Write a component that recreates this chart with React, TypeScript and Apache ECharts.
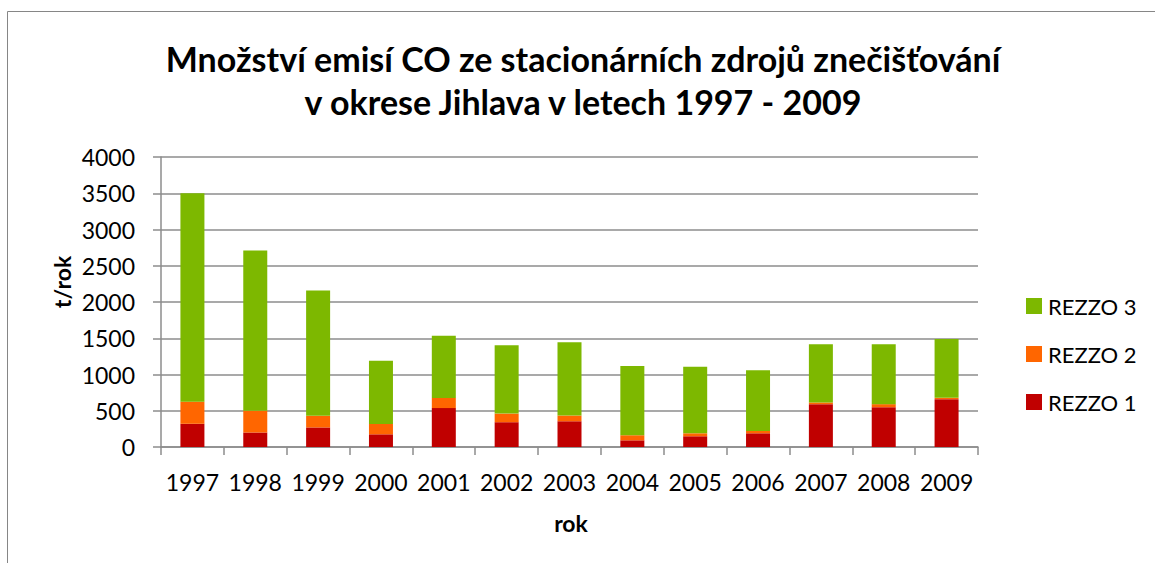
import React, { useEffect, useRef } from "react";
import * as echarts from "echarts";

const years = ["1997", "1998", "1999", "2000", "2001", "2002", "2003", "2004", "2005", "2006", "2007", "2008", "2009"];
const rezzo1 = [320, 200, 270, 175, 537, 342, 355, 92, 148, 189, 591, 549, 660];
const rezzo2 = [305, 300, 160, 142, 140, 119, 79, 70, 41, 33, 23, 42, 18];
const rezzo3 = [2875, 2210, 1730, 873, 858, 942, 1011, 955, 919, 835, 803, 826, 813];

const titleLines = ["Množství emisí CO ze stacionárních zdrojů znečišťování", "v okrese Jihlava v letech 1997 - 2009"];
const seriesNames = ["REZZO 1", "REZZO 2", "REZZO 3"];
const colors = ["#c00000", "#ff6600", "#7db800"];

const FONT = "Lato, 'Open Sans', sans-serif";
const GRIDC = "#8c8c8c";

export default function App() {
  const ref = useRef<HTMLDivElement>(null);
  useEffect(() => {
    document.body.style.margin = "0";
    const chart = echarts.init(ref.current!, null, { renderer: "svg" });
    const dataSets = [rezzo1, rezzo2, rezzo3];
    chart.setOption({
      animation: false,
      backgroundColor: "#ffffff",
      textStyle: { fontFamily: FONT },
      grid: { left: 161, top: 157, width: 817, height: 290, containLabel: false },
      legend: {
        orient: "vertical",
        left: 1021,
        top: 290,
        itemWidth: 16,
        itemHeight: 16,
        itemGap: 26,
        icon: "rect",
        data: ["REZZO 3", "REZZO 2", "REZZO 1"],
        textStyle: { fontFamily: FONT, fontSize: 22, color: "#000", lineHeight: 22, padding: [0, 0, 0, 1] },
      },
      xAxis: {
        type: "category",
        data: years,
        axisLine: { show: true, lineStyle: { color: GRIDC, width: 1.5 } },
        axisTick: { show: true, length: 8, alignWithLabel: false, lineStyle: { color: GRIDC, width: 1.5 } },
        axisLabel: { fontFamily: FONT, fontSize: 23, color: "#000", margin: 23, interval: 0 },
      },
      yAxis: {
        type: "value",
        min: 0,
        max: 4000,
        interval: 500,
        axisLine: { show: true, lineStyle: { color: GRIDC, width: 1.5 } },
        axisTick: { show: true, length: 8, inside: false, lineStyle: { color: GRIDC, width: 1.5 } },
        axisLabel: { fontFamily: FONT, fontSize: 23, color: "#000", margin: 26, formatter: (v: number) => String(v) },
        splitLine: { show: true, lineStyle: { color: GRIDC, width: 1.5 } },
      },
      series: seriesNames.map((name, i) => ({
        name,
        type: "bar",
        stack: "total",
        barWidth: 24,
        data: dataSets[i],
        itemStyle: { color: colors[i] },
      })),
      graphic: [
        {
          type: "rect",
          shape: { x: 7.5, y: 11.5, width: 1300, height: 700 },
          style: { fill: "none", stroke: "#868686", lineWidth: 1 },
          silent: true,
        },
        {
          type: "text",
          x: 583,
          y: 58,
          style: { text: titleLines[0], font: `bold 34px ${FONT}`, fill: "#000", textAlign: "center", textVerticalAlign: "middle" },
        },
        {
          type: "text",
          x: 583,
          y: 101,
          style: { text: titleLines[1], font: `bold 34px ${FONT}`, fill: "#000", textAlign: "center", textVerticalAlign: "middle" },
        },
        {
          type: "text",
          x: 62,
          y: 282,
          rotation: Math.PI / 2,
          style: { text: "t/rok", font: `bold 23px ${FONT}`, fill: "#000", textAlign: "center", textVerticalAlign: "middle" },
        },
        {
          type: "text",
          x: 571,
          y: 523,
          style: { text: "rok", font: `bold 23px ${FONT}`, fill: "#000", textAlign: "center", textVerticalAlign: "middle" },
        },
      ],
    });
    return () => chart.dispose();
  }, []);
  return <div ref={ref} style={{ width: 1155, height: 563 }} />;
}
